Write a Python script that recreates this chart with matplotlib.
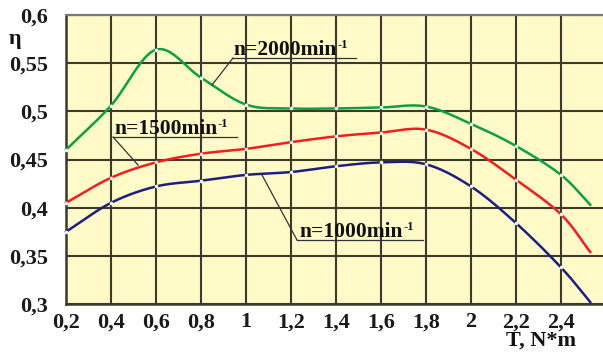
import numpy as np
import matplotlib
matplotlib.use("Agg")
import matplotlib.pyplot as plt

# ---- data ----
torque = [0.2, 0.4, 0.6, 0.8, 1.0, 1.2, 1.4, 1.6, 1.8, 2.0, 2.2, 2.4, 2.53]
eff_2000 = [0.460, 0.506, 0.564, 0.535, 0.507, 0.503, 0.503, 0.504, 0.505, 0.487, 0.464, 0.434, 0.403]
eff_1500 = [0.405, 0.431, 0.447, 0.456, 0.461, 0.468, 0.474, 0.478, 0.481, 0.461, 0.429, 0.393, 0.354]
eff_1000 = [0.375, 0.405, 0.422, 0.428, 0.434, 0.437, 0.443, 0.447, 0.445, 0.422, 0.384, 0.338, 0.302]

x_ticks = [0.2, 0.4, 0.6, 0.8, 1.0, 1.2, 1.4, 1.6, 1.8, 2.0, 2.2, 2.4]
x_tick_labels = ['0,2', '0,4', '0,6', '0,8', '1', '1,2', '1,4', '1,6', '1,8', '2', '2,2', '2,4']
y_ticks = [0.3, 0.35, 0.4, 0.45, 0.5, 0.55, 0.6]
y_tick_labels = ['0,3', '0,35', '0,4', '0,45', '0,5', '0,55', '0,6']

series_labels = ['n=2000min', 'n=1500min', 'n=1000min']


def smooth(x, y, n=24):
    P = np.column_stack([x, y]).astype(float)
    ext = np.vstack([2 * P[0] - P[1], P, 2 * P[-1] - P[-2]])
    out = []
    t = np.linspace(0, 1, n, endpoint=False)[:, None]
    for i in range(1, len(ext) - 2):
        p0, p1, p2, p3 = ext[i - 1], ext[i], ext[i + 1], ext[i + 2]
        seg = 0.5 * ((2 * p1) + (-p0 + p2) * t + (2 * p0 - 5 * p1 + 4 * p2 - p3) * t ** 2
                     + (-p0 + 3 * p1 - 3 * p2 + p3) * t ** 3)
        out.append(seg)
    out.append(P[-1:])
    S = np.vstack(out)
    return S[:, 0], S[:, 1]


fig = plt.figure(figsize=(6.03, 3.54), dpi=100)
ax = fig.add_axes([66 / 603, 1 - 304 / 354, 1 - 66 / 603, (304 - 15) / 354])
ax.set_facecolor('#FFFAC8')

ax.set_xlim(0.2, 0.2 + (603 - 66) / 225)
ax.set_ylim(0.3, 0.6)

grid_c = '#3C3A2C'
ax.set_xticks(x_ticks)
ax.set_xticklabels(x_tick_labels)
ax.set_yticks(y_ticks)
ax.set_yticklabels(y_tick_labels)
for lab in ax.get_xticklabels() + ax.get_yticklabels():
    lab.set_fontfamily('Liberation Serif')
    lab.set_fontweight('bold')
    lab.set_fontsize(16)
    lab.set_color('#1a1a1a')
ax.tick_params(axis='x', length=0, pad=6)
ax.tick_params(axis='y', length=0, pad=13)
ax.grid(True, color=grid_c, linewidth=1.5, zorder=1)
ax.set_axisbelow(True)

ax.spines['right'].set_visible(False)
ax.spines['top'].set_color('#7a7a70')
ax.spines['top'].set_linewidth(1.6)
ax.spines['left'].set_color(grid_c)
ax.spines['left'].set_linewidth(1.8)
ax.spines['bottom'].set_color(grid_c)
ax.spines['bottom'].set_linewidth(1.8)

colors = ['#0BA040', '#F21E1E', '#1E1E80']
for ys, c in zip([eff_2000, eff_1500, eff_1000], colors):
    sx, sy = smooth(torque, ys)
    ax.plot(sx, sy, color=c, lw=1.8, zorder=3, clip_on=False)
    ax.plot(torque[:-1], ys[:-1], 'o', ms=2.6, mfc='#F4F4F4', mew=0, zorder=4, clip_on=False)


def px2d(px, py):
    return 0.2 + (px - 66) / 225, 0.6 - (py - 15) / 963.3


tfont = dict(family='Liberation Serif', fontweight='bold', color='#111111')
# labels: text pos, underline start/end, leader end
ann = [
    (series_labels[0], (233, 55), (233, 356, 58), (212, 85)),
    (series_labels[1], (114, 134), (113, 237, 137), (138, 165)),
    (series_labels[2], (299, 237), (297, 423, 240), (262, 175)),
]
for lab, tp, ul, le in ann:
    x, y = px2d(*tp)
    t = ax.text(x, y, lab, ha='left', va='baseline', zorder=6, fontsize=15.5, **tfont)
    ax.annotate('-1', xy=(1, 1), xycoords=t, xytext=(0.5, 0.5), textcoords='offset points',
                ha='left', va='top', fontsize=9, zorder=6, **tfont)
    x0, yu = px2d(ul[0], ul[2])
    x1, _ = px2d(ul[1], ul[2])
    ax.plot([x0, x1], [yu, yu], color='#333333', lw=0.9, zorder=5)
    lx, ly = px2d(*le)
    ax.plot([x0, lx], [yu, ly], color='#333333', lw=0.9, zorder=5)

fig.text(15 / 603, 1 - 39 / 354, 'η', ha='center', va='center', fontsize=16, **tfont)
fig.text(541 / 603, 1 - 341 / 354, 'T, N*m', ha='center', va='center', fontsize=16, **tfont)

fig.savefig('out.png', dpi=100)
